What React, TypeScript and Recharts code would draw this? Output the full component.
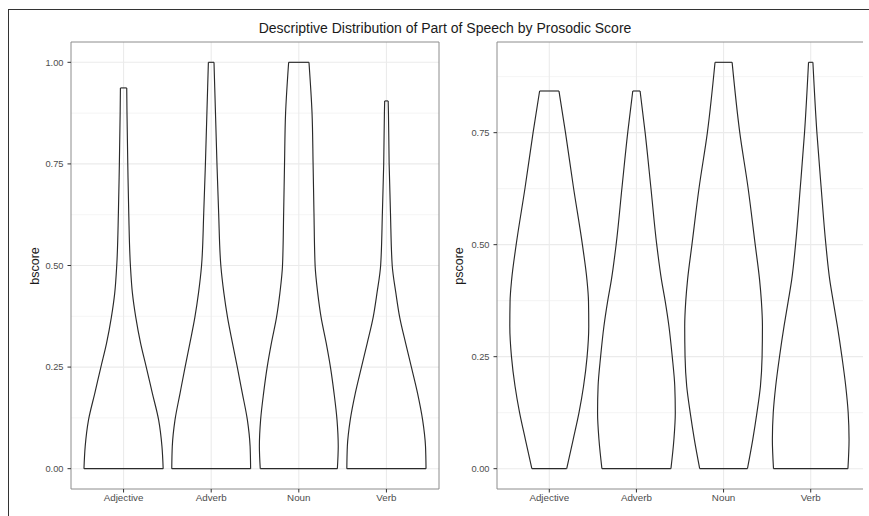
import { ScatterChart, Scatter, XAxis, YAxis, CartesianGrid, ReferenceLine } from 'recharts'

const CATEGORIES = ['Adjective', 'Adverb', 'Noun', 'Verb']

// bscore violins: half-width (category units) at each height
const B_LEVELS = [0, 0.055, 0.12, 0.186, 0.25, 0.309, 0.373, 0.432, 0.5, 0.63, 0.75, 0.875]
const B_ADJECTIVE = [0.452, 0.438, 0.4, 0.328, 0.259, 0.194, 0.139, 0.101, 0.078, 0.059, 0.048, 0.039]
const B_ADVERB = [0.45, 0.444, 0.413, 0.355, 0.298, 0.243, 0.186, 0.145, 0.11, 0.085, 0.066, 0.049]
const B_NOUN = [0.44, 0.45, 0.436, 0.402, 0.361, 0.313, 0.254, 0.216, 0.186, 0.173, 0.163, 0.151]
const B_VERB = [0.452, 0.446, 0.413, 0.355, 0.285, 0.219, 0.151, 0.108, 0.066, 0.046, 0.031, 0.023]
const B_TOP = [0.937, 1.0, 1.0, 0.905]
const B_TOP_WIDTH = [0.036, 0.032, 0.116, 0.02]

// pscore violins
const P_LEVELS = [0, 0.065, 0.125, 0.184, 0.25, 0.318, 0.374, 0.422, 0.5, 0.627, 0.75]
const P_ADJECTIVE = [0.2, 0.274, 0.341, 0.393, 0.434, 0.453, 0.45, 0.432, 0.38, 0.278, 0.186]
const P_ADVERB = [0.396, 0.43, 0.446, 0.44, 0.411, 0.373, 0.33, 0.287, 0.233, 0.166, 0.1]
const P_NOUN = [0.274, 0.335, 0.383, 0.423, 0.442, 0.446, 0.434, 0.413, 0.363, 0.281, 0.186]
const P_VERB = [0.427, 0.44, 0.43, 0.402, 0.358, 0.306, 0.258, 0.218, 0.174, 0.12, 0.071]
const P_TOP = [0.843, 0.843, 0.907, 0.907]
const P_TOP_WIDTH = [0.111, 0.042, 0.098, 0.025]

const B_TICKS = [0, 0.25, 0.5, 0.75, 1]
const B_MINOR = [0.125, 0.375, 0.625, 0.875]
const P_TICKS = [0, 0.25, 0.5, 0.75]
const P_MINOR = [0.125, 0.375, 0.625, 0.875]

const H = 516
const FONT = '"Liberation Sans", Arial, sans-serif'
const LINE = '#2a2a2a'
const BORDER = '#8c8c8c'

type Pt = { x: number; y: number }

function outline(levels: number[], widths: number[], top: number, topW: number, center: number) {
  const left: Pt[] = levels.map((y, i) => ({ x: center - widths[i], y }))
  const right: Pt[] = levels.map((y, i) => ({ x: center + widths[i], y }))
  left.push({ x: center - topW, y: top })
  right.push({ x: center + topW, y: top })
  const cap: Pt[] = [{ x: center - topW, y: top }, { x: center + topW, y: top }]
  const base: Pt[] = [{ x: center - widths[0], y: 0 }, { x: center + widths[0], y: 0 }]
  return { sides: [left, right], flats: [cap, base] }
}

interface PanelProps {
  left: number
  width: number
  marginLeft: number
  marginRight: number
  domain: [number, number]
  ticks: number[]
  minor: number[]
  levels: number[]
  widths: number[][]
  tops: number[]
  topWidths: number[]
  closeRight: boolean
}

function ViolinPanel(p: PanelProps) {
  const series = p.widths.map((w, i) => outline(p.levels, w, p.tops[i], p.topWidths[i], i + 1))
  const lineStyle = { stroke: LINE, strokeWidth: 1.15 }
  return (
    <div style={{ position: 'absolute', left: p.left, top: 0 }}>
      <ScatterChart
        width={p.width}
        height={H}
        margin={{ top: 42, right: p.marginRight, bottom: 0, left: p.marginLeft }}
        style={{ fontFamily: FONT }}
      >
        <CartesianGrid horizontalValues={p.minor} vertical={false} stroke="#efefef" strokeWidth={0.7} />
        <CartesianGrid horizontalValues={p.ticks} verticalValues={[1, 2, 3, 4]} stroke="#ebebeb" strokeWidth={1.1} />
        <XAxis
          type="number"
          dataKey="x"
          domain={[0.4, 4.6]}
          ticks={[1, 2, 3, 4]}
          interval={0}
          allowDataOverflow
          height={27}
          tickFormatter={(v: number) => CATEGORIES[v - 1]}
          tick={{ fill: '#4d4d4d', fontSize: 9.8 }}
          tickSize={3.5}
          tickMargin={2}
          tickLine={{ stroke: '#333' }}
          axisLine={{ stroke: BORDER }}
        />
        <YAxis
          type="number"
          dataKey="y"
          domain={p.domain}
          ticks={p.ticks}
          interval={0}
          allowDataOverflow
          width={30}
          tickFormatter={(v: number) => v.toFixed(2)}
          tick={{ fill: '#4d4d4d', fontSize: 9.3 }}
          tickSize={3.5}
          tickMargin={4}
          tickLine={{ stroke: '#333' }}
          axisLine={{ stroke: BORDER }}
        />
        <ReferenceLine y={p.domain[1]} stroke={BORDER} ifOverflow="visible" />
        {p.closeRight && <ReferenceLine x={4.6} stroke={BORDER} ifOverflow="visible" />}
        {series.flatMap((s, i) => [
          ...s.sides.map((d, j) => (
            <Scatter
              key={`side-${i}-${j}`}
              data={d}
              shape={() => <g />}
              line={lineStyle}
              lineJointType="monotoneY"
              isAnimationActive={false}
            />
          )),
          ...s.flats.map((d, j) => (
            <Scatter
              key={`flat-${i}-${j}`}
              data={d}
              shape={() => <g />}
              line={lineStyle}
              lineJointType="linear"
              isAnimationActive={false}
            />
          )),
        ])}
      </ScatterChart>
    </div>
  )
}

const axisTitle = (text: string, cx: number) => (
  <div
    style={{
      position: 'absolute',
      left: cx - 40,
      top: 257,
      width: 80,
      height: 18,
      lineHeight: '18px',
      textAlign: 'center',
      fontSize: 12.5,
      color: '#1a1a1a',
      transform: 'rotate(-90deg)',
    }}
  >
    {text}
  </div>
)

export default function App() {
  return (
    <div
      style={{
        position: 'absolute',
        left: 0,
        top: 0,
        width: 869,
        height: H,
        background: '#fff',
        fontFamily: FONT,
        overflow: 'hidden',
      }}
    >
      <div
        style={{
          position: 'absolute',
          left: 8,
          top: 9,
          width: 861,
          height: H - 9,
          borderLeft: '1.5px solid #333',
          borderTop: '1.5px solid #333',
        }}
      />
      <div
        style={{
          position: 'absolute',
          left: 245,
          top: 20,
          width: 400,
          textAlign: 'center',
          fontSize: 14,
          lineHeight: '16px',
          color: '#1a1a1a',
        }}
      >
        Descriptive Distribution of Part of Speech by Prosodic Score
      </div>
      <ViolinPanel
        left={0}
        width={445}
        marginLeft={41}
        marginRight={6}
        domain={[-0.05, 1.05]}
        ticks={B_TICKS}
        minor={B_MINOR}
        levels={B_LEVELS}
        widths={[B_ADJECTIVE, B_ADVERB, B_NOUN, B_VERB]}
        tops={B_TOP}
        topWidths={B_TOP_WIDTH}
        closeRight
      />
      <ViolinPanel
        left={445}
        width={424}
        marginLeft={22}
        marginRight={6}
        domain={[-0.04535, 0.95235]}
        ticks={P_TICKS}
        minor={P_MINOR}
        levels={P_LEVELS}
        widths={[P_ADJECTIVE, P_ADVERB, P_NOUN, P_VERB]}
        tops={P_TOP}
        topWidths={P_TOP_WIDTH}
        closeRight={false}
      />
      {axisTitle('bscore', 35)}
      {axisTitle('pscore', 459)}
    </div>
  )
}
